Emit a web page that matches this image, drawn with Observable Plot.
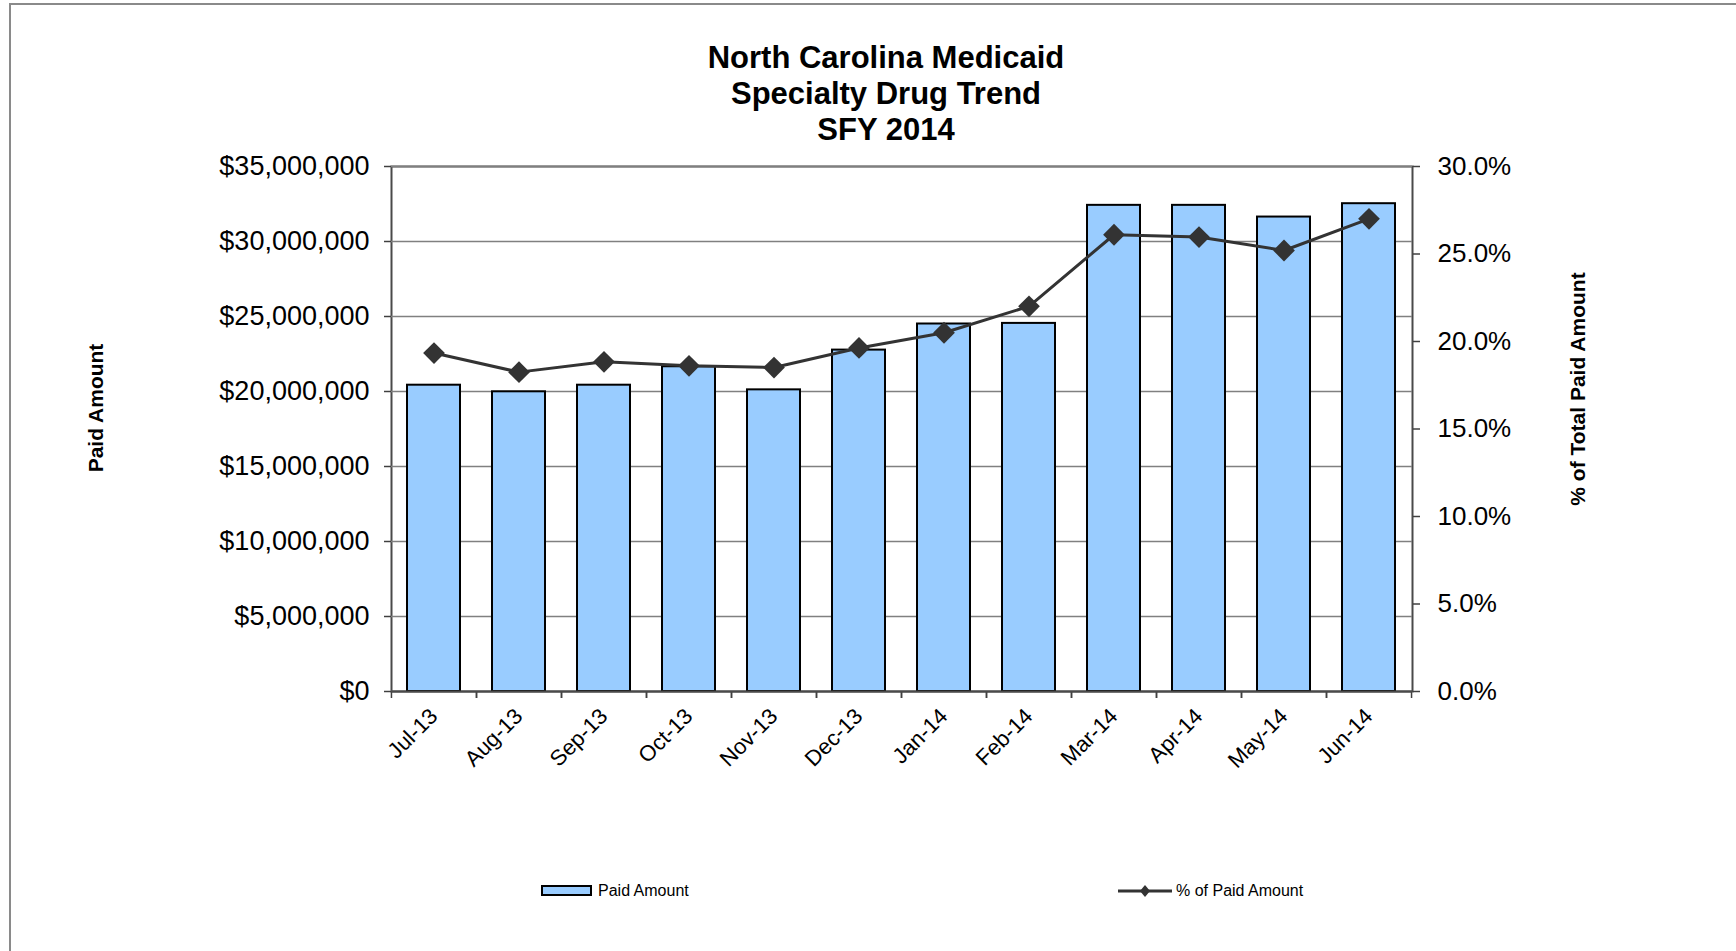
<!DOCTYPE html>
<html><head><meta charset="utf-8">
<script src="https://cdn.jsdelivr.net/npm/d3@7"></script>
<script src="https://cdn.jsdelivr.net/npm/@observablehq/plot@0.6"></script>
<style>
body{margin:0;background:#fff;}
#wrap{position:relative;width:1736px;height:951px;overflow:hidden;font-family:"Liberation Sans",Arial,sans-serif;color:#000;}
#wrap svg{position:absolute;left:0;top:0;}
#border{position:absolute;left:9px;top:3px;width:1800px;height:1000px;border-top:2px solid #8a8a8a;border-left:2px solid #8a8a8a;}
#title{position:absolute;left:0;top:40px;width:1772px;text-align:center;font-weight:bold;font-size:31px;line-height:36px;}
.ytitle{position:absolute;font-weight:bold;font-size:21px;white-space:nowrap;transform:translate(-50%,-50%) rotate(-90deg);}
.leg{position:absolute;font-size:16px;white-space:nowrap;line-height:16px;}
</style>
</head><body>
<div id="wrap">
  <div id="border"></div>
  <div id="chart"></div>
  <div id="title">North Carolina Medicaid<br>Specialty Drug Trend<br>SFY 2014</div>
  <div class="ytitle" style="left:96px;top:408px;">Paid Amount</div>
  <div class="ytitle" style="left:1578px;top:389px;">% of Total Paid Amount</div>
  <div style="position:absolute;left:541px;top:885px;width:47px;height:7px;background:#99CCFF;border:2px solid #000;"></div>
  <div class="leg" style="left:598px;top:883px;">Paid Amount</div>
  <svg style="position:absolute;left:1116px;top:882px;" width="58" height="18"><line x1="2" y1="9" x2="56" y2="9" stroke="#333" stroke-width="3"/><path d="M29,3 L34,9 L29,15 L24,9 Z" fill="#333"/></svg>
  <div class="leg" style="left:1176px;top:883px;">% of Paid Amount</div>
</div>
<script>
const months = ["Jul-13","Aug-13","Sep-13","Oct-13","Nov-13","Dec-13","Jan-14","Feb-14","Mar-14","Apr-14","May-14","Jun-14"];
const paidAmount = [20420000, 19980000, 20420000, 21650000, 20110000, 22760000, 24500000, 24540000, 32410000, 32410000, 31630000, 32520000];
const pctPaid = [19.34, 18.25, 18.84, 18.61, 18.51, 19.63, 20.50, 22.01, 26.10, 25.97, 25.20, 27.01];
const leftTicks = [0, 5000000, 10000000, 15000000, 20000000, 25000000, 30000000, 35000000];
const rightTicks = [0, 5, 10, 15, 20, 25, 30];

const leftMax = 35000000, rightMax = 30;
const k = leftMax / rightMax; // maps percent onto the left scale
const rows = months.map((m, i) => ({month: m, paid: paidAmount[i], pct: pctPaid[i]}));

const W = 1736, H = 951, ML = 391, MR = 324, MT = 166, MB = 260;
const step = (W - ML - MR) / months.length;
const font = "Liberation Sans, Arial, sans-serif";

const chart = Plot.plot({
  width: W, height: H,
  marginLeft: ML, marginRight: MR, marginTop: MT, marginBottom: MB,
  style: {fontFamily: font, color: "#000", background: "transparent"},
  x: {type: "band", domain: months, paddingInner: 0.372, paddingOuter: 0.186, label: null},
  y: {domain: [0, leftMax], label: null},
  marks: [
    Plot.frame({stroke: "#4a4a4a", strokeWidth: 2}),
    Plot.gridY(leftTicks, {stroke: "#808080", strokeOpacity: 1, strokeWidth: 1.5}),
    Plot.axisY(leftTicks, {anchor: "left", tickSize: 7, tickPadding: 15, fontSize: 27, stroke: "#404040", strokeWidth: 1.5,
      tickFormat: d => "$" + d3.format(",")(d), label: null}),
    Plot.axisY(rightTicks.map(p => p * k), {anchor: "right", tickSize: 7, tickPadding: 18, fontSize: 26, stroke: "#404040", strokeWidth: 1.5,
      tickFormat: d => (d / k).toFixed(1) + "%", label: null}),
    Plot.axisX({tickSize: 0, tickPadding: 21, tickRotate: -45, fontSize: 22, label: null}),
    Plot.axisX({tickSize: 7, tickFormat: () => "", dx: -step / 2, stroke: "#404040", strokeWidth: 1.5, label: null}),
    Plot.axisX({tickSize: 7, tickFormat: () => "", dx: step / 2, stroke: "#404040", strokeWidth: 1.5, label: null}),
    Plot.barY(rows, {x: "month", y: "paid", fill: "#99CCFF", stroke: "#000", strokeWidth: 2}),
    Plot.ruleY([0], {stroke: "#4a4a4a", strokeWidth: 2}),
    Plot.line(rows, {x: "month", y: d => d.pct * k, stroke: "#333", strokeWidth: 3}),
    Plot.dot(rows, {x: "month", y: d => d.pct * k, symbol: "diamond2", r: 9.8, fill: "#333", stroke: "none"})
  ]
});
document.getElementById("chart").appendChild(chart);
</script>
</body></html>
